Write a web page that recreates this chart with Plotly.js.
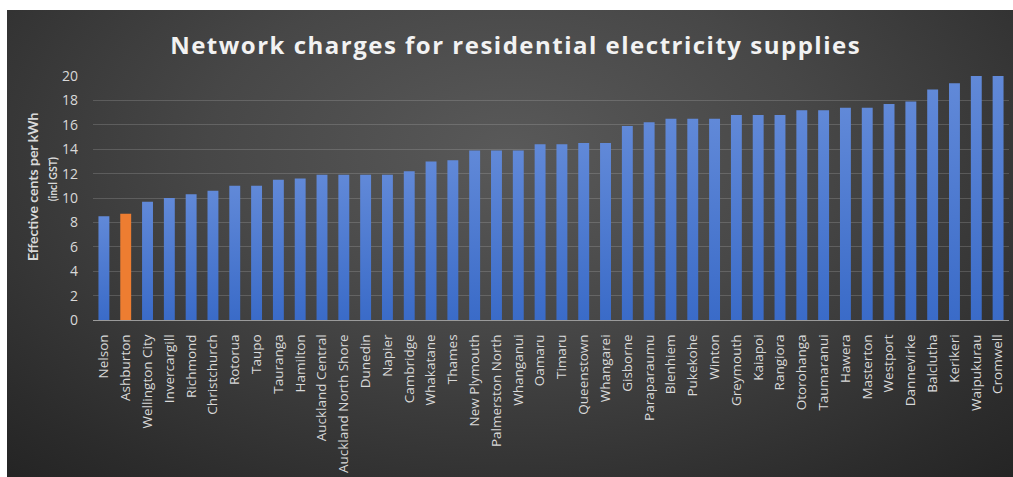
<!DOCTYPE html>
<html>
<head>
<meta charset="utf-8">
<script src="https://cdn.plot.ly/plotly-3.0.1.min.js"></script>
<style>
  html, body { margin: 0; padding: 0; background: #ffffff; width: 1013px; height: 477px; overflow: hidden; }
  #bg { position: absolute; left: 7px; top: 10px; width: 1006px; height: 467px;
        background: radial-gradient(ellipse 75% 95% at 50% 30%, #595959 0%, #474747 40%, #2c2c2c 85%, #242424 100%); }
  #chart { position: absolute; left: 0; top: 0; width: 1013px; height: 477px; }
  .gtitle { letter-spacing: 1.5px; }
  .bars .point path { fill: url(#barGrad) !important; }
  .bars .point:nth-child(2) path { fill: #ed7d31 !important; }
</style>
</head>
<body>
<svg width="0" height="0" style="position:absolute">
  <defs>
    <linearGradient id="barGrad" x1="0" y1="0" x2="0" y2="1">
      <stop offset="0%" stop-color="#6189d8"/>
      <stop offset="100%" stop-color="#3a6bc8"/>
    </linearGradient>
  </defs>
</svg>
<div id="bg"></div>
<div id="chart"></div>
<script>
const towns = ["Nelson","Ashburton","Wellington City","Invercargill","Richmond","Christchurch","Rotorua","Taupo","Tauranga","Hamilton","Auckland Central","Auckland North Shore","Dunedin","Napier","Cambridge","Whakatane","Thames","New Plymouth","Palmerston North","Whanganui","Oamaru","Timaru","Queenstown","Whangarei","Gisborne","Paraparaumu","Blenhiem","Pukekohe","Winton","Greymouth","Kaiapoi","Rangiora","Otorohanga","Taumaranui","Hawera","Masterton","Westport","Dannevirke","Balclutha","Kerikeri","Waipukurau","Cromwell"];
const centsPerKWh = [8.5,8.7,9.7,10.0,10.3,10.6,11.0,11.0,11.5,11.6,11.9,11.9,11.9,11.9,12.2,13.0,13.1,13.9,13.9,13.9,14.4,14.4,14.5,14.5,15.9,16.2,16.5,16.5,16.5,16.8,16.8,16.8,17.2,17.2,17.4,17.4,17.7,17.9,18.9,19.4,20.0,20.0];
const highlightTown = "Ashburton";
const yTicks = [0,2,4,6,8,10,12,14,16,18,20];

const colors = towns.map(t => t === highlightTown ? "#ed7d31" : "#4a78d0");

const trace = {
  type: "bar",
  x: towns,
  y: centsPerKWh,
  marker: { color: colors, line: { width: 0 } },
  hoverinfo: "x+y"
};

const layout = {
  width: 1013,
  height: 477,
  paper_bgcolor: "rgba(0,0,0,0)",
  plot_bgcolor: "rgba(0,0,0,0)",
  margin: { l: 93, r: 4, t: 76, b: 157 },
  bargap: 0.5,
  showlegend: false,
  title: {
    text: "Network charges for residential electricity supplies",
    font: { family: "Open Sans, sans-serif", size: 24, color: "#f2f2f2", weight: "bold" },
    x: 0.509, xref: "container", xanchor: "center",
    y: 0.905, yref: "container", yanchor: "middle"
  },
  xaxis: {
    type: "category",
    tickangle: -90,
    tickfont: { family: "Open Sans, sans-serif", size: 13.5, color: "#d9d9d9" },
    showgrid: false,
    showline: true,
    linecolor: "#9a9a9a",
    linewidth: 1,
    ticks: "",
    ticklabelstandoff: 8,
    automargin: false
  },
  yaxis: {
    range: [0, 20],
    tickvals: yTicks,
    tickfont: { family: "Open Sans, sans-serif", size: 14, color: "#d9d9d9" },
    showgrid: true,
    gridcolor: "rgba(200,200,200,0.22)",
    gridwidth: 1,
    zeroline: false,
    ticks: "",
    ticklabelstandoff: 14,
    automargin: false
  },
  annotations: [
    {
      text: "<b>Effective cents per kWh</b>",
      xref: "paper", yref: "paper",
      x: -0.0665, y: 0.545,
      xanchor: "center", yanchor: "middle",
      textangle: -90, showarrow: false,
      font: { family: "Lato, sans-serif", size: 14, color: "#d9d9d9" }
    },
    {
      text: "<b>(incl GST)</b>",
      xref: "paper", yref: "paper",
      x: -0.0435, y: 0.577,
      xanchor: "center", yanchor: "middle",
      textangle: -90, showarrow: false,
      font: { family: "Lato, sans-serif", size: 10.5, color: "#d9d9d9" }
    }
  ]
};

Plotly.newPlot("chart", [trace], layout, { displayModeBar: false, staticPlot: true });
</script>
</body>
</html>
